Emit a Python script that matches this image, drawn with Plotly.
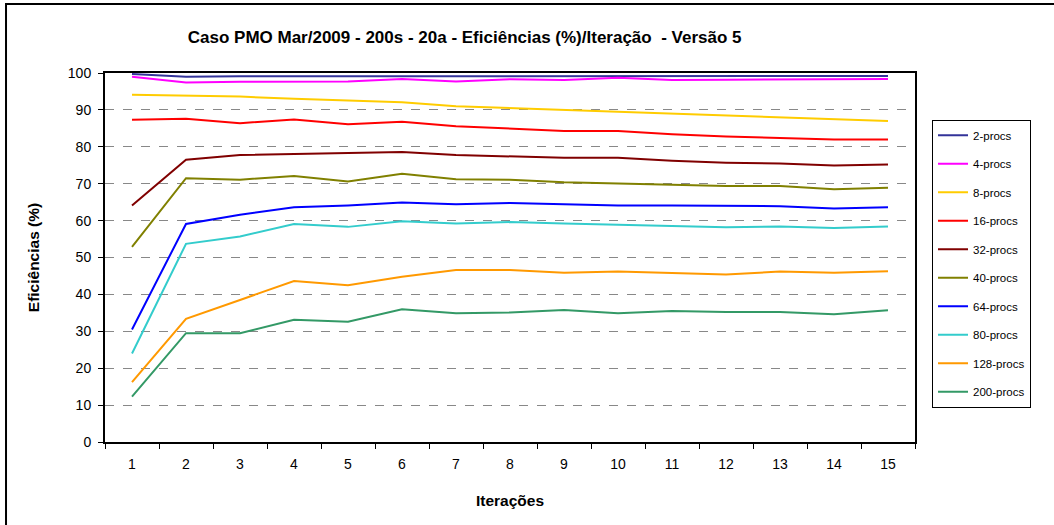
import plotly.graph_objects as go

iteracoes = [str(i) for i in range(1, 16)]

procs_2 = [99.7, 99.0, 99.1, 99.1, 99.1, 99.2, 99.1, 99.1, 99.1, 99.2, 99.1, 99.1, 99.1, 99.2, 99.2]
procs_4 = [99.0, 97.4, 97.6, 97.7, 97.7, 98.4, 97.7, 98.3, 98.1, 98.7, 98.1, 98.2, 98.2, 98.4, 98.4]
procs_8 = [94.1, 93.9, 93.6, 93.0, 92.6, 92.1, 91.0, 90.5, 90.0, 89.5, 88.9, 88.3, 87.8, 87.3, 87.0]
procs_16 = [87.3, 87.6, 86.4, 87.4, 86.1, 86.8, 85.6, 85.0, 84.3, 84.3, 83.4, 82.8, 82.4, 82.0, 82.0]
procs_32 = [64.1, 76.5, 77.8, 78.0, 78.3, 78.6, 77.8, 77.5, 77.0, 77.0, 76.2, 75.7, 75.5, 74.9, 75.2]
procs_40 = [52.9, 71.5, 71.1, 72.1, 70.6, 72.7, 71.2, 71.1, 70.4, 70.1, 69.7, 69.4, 69.4, 68.5, 68.9]
procs_64 = [30.5, 59.1, 61.6, 63.6, 64.1, 64.9, 64.4, 64.8, 64.4, 64.1, 64.1, 64.0, 63.9, 63.3, 63.6]
procs_80 = [24.0, 53.7, 55.7, 59.1, 58.3, 59.8, 59.2, 59.6, 59.2, 58.9, 58.4, 58.2, 58.4, 58.0, 58.4]
procs_128 = [16.2, 33.4, 38.5, 43.6, 42.5, 44.8, 46.6, 46.6, 45.9, 46.2, 45.8, 45.4, 46.2, 45.9, 46.3]
procs_200 = [12.3, 29.5, 29.5, 33.1, 32.6, 36.0, 34.9, 35.1, 35.8, 34.9, 35.5, 35.2, 35.2, 34.6, 35.7]

series = [
    ('2-procs', procs_2, '#333399'),
    ('4-procs', procs_4, '#FF00FF'),
    ('8-procs', procs_8, '#FFCC00'),
    ('16-procs', procs_16, '#FF0000'),
    ('32-procs', procs_32, '#800000'),
    ('40-procs', procs_40, '#808000'),
    ('64-procs', procs_64, '#0000FF'),
    ('80-procs', procs_80, '#33CCCC'),
    ('128-procs', procs_128, '#FF9900'),
    ('200-procs', procs_200, '#339966'),
]

fig = go.Figure()
for nome, valores, cor in series:
    fig.add_trace(go.Scatter(
        x=iteracoes, y=valores, name=nome, mode='lines',
        line=dict(color=cor, width=2), legendgroup=nome
    ))

# plot area in pixels: left 105, right 915, top 73, bottom 442
fig.update_layout(
    width=1054, height=525,
    margin=dict(l=105, r=139, t=73, b=83),
    paper_bgcolor='white', plot_bgcolor='white',
    font=dict(family='Liberation Sans, Arial', size=14, color='black'),
    title=dict(text='<b>Caso PMO Mar/2009 - 200s - 20a - Eficiências (%)/Iteração  - Versão 5</b>',
               x=0.444, xref='paper', xanchor='center', y=0.93, yanchor='middle',
               font=dict(family='Liberation Sans, Arial', size=17)),
    legend=dict(x=1.021, xanchor='left', y=0.873, yanchor='top',
                bordercolor='black', borderwidth=1,
                font=dict(family='Liberation Sans, Arial', size=11.5),
                tracegroupgap=9.5, itemwidth=30),
    showlegend=True,
)

fig.update_xaxes(
    type='category', range=[-0.5, 14.5], tickson='boundaries',
    ticks='outside', ticklen=5, tickcolor='black', ticklabelstandoff=8,
    showline=True, linecolor='black', linewidth=2, mirror=True,
    showgrid=False,
    title=dict(text='<b>Iterações</b>', standoff=24,
               font=dict(family='Liberation Sans, Arial', size=15.5)),
)
fig.update_yaxes(
    range=[0, 100], dtick=10, ticks='outside', ticklen=5, tickcolor='black',
    ticklabelstandoff=4,
    showline=True, linecolor='black', linewidth=2, mirror=True,
    showgrid=True, gridcolor='#888888', gridwidth=1, griddash='dash',
    zeroline=False,
    title=dict(text='<b>Eficiências (%)</b>', standoff=24,
               font=dict(family='Liberation Sans, Arial', size=15.5)),
)

# outer chart border (left and top visible)
fig.add_shape(type='rect', xref='paper', yref='paper',
              x0=-0.1222, x1=1.2, y0=-0.25, y1=1.187,
              line=dict(color='black', width=2), layer='below')

fig.write_html('out.html', config={'displayModeBar': False},
               post_script="document.body.style.margin='0';")
